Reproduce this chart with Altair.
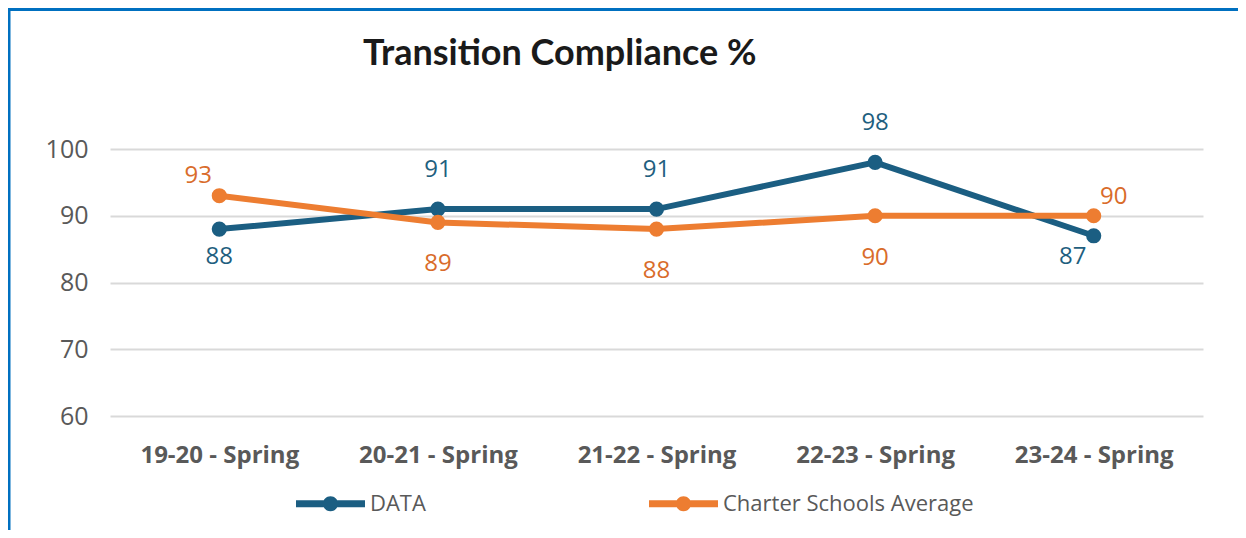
import altair as alt
import pandas as pd

# ---- data ----
seasons = ["19-20 - Spring", "20-21 - Spring", "21-22 - Spring", "22-23 - Spring", "23-24 - Spring"]
series_names = ["DATA", "Charter Schools Average"]
data_values = [88, 91, 91, 98, 87]
charter_values = [93, 89, 88, 90, 90]
data_label_pos = ["below-near", "above", "above", "above", "below-left"]
charter_label_pos = ["above-left", "below", "below", "below", "above-right"]
y_ticks = [60, 70, 80, 90, 100]

rows = []
for name, vals, pos in [(series_names[0], data_values, data_label_pos),
                        (series_names[1], charter_values, charter_label_pos)]:
    for s, v, p in zip(seasons, vals, pos):
        rows.append({"season": s, "series": name, "value": v, "pos": p})
df = pd.DataFrame(rows)

LINE_COLORS = ["#1B5E82", "#ED7D31"]
LABEL_COLORS = ["#1F5F80", "#D96C2B"]
GRAY = "#595959"

W, H = 1093, 267
PAD = {"left": 102, "top": 141, "right": 35, "bottom": 114}

x_enc = alt.X("season:N", sort=seasons, title=None,
              scale=alt.Scale(type="point", padding=0.5),
              axis=alt.Axis(labelFont="Open Sans", labelFontSize=24, labelFontWeight="bold",
                            labelColor=GRAY, labelPadding=27, ticks=False, domain=False,
                            grid=False, labelAngle=0))
y_enc = alt.Y("value:Q", title=None,
              scale=alt.Scale(domain=[60, 100], nice=False, zero=False),
              axis=alt.Axis(values=y_ticks, labelFont="Open Sans", labelFontSize=25,
                            labelColor=GRAY, labelPadding=22, ticks=False, domain=False,
                            grid=True, gridColor="#D9D9D9", gridWidth=2))

base = alt.Chart(df)

lines = base.mark_line(strokeWidth=6).encode(
    x=x_enc, y=y_enc,
    stroke=alt.Stroke("series:N", sort=series_names,
                      scale=alt.Scale(range=LINE_COLORS), legend=None),
    detail="series:N",
)

SYMBOL = ("M-1,-0.1L1,-0.1L1,0.1L-1,0.1Z "
          "M0.22,0A0.22,0.22,0,1,1,-0.22,0A0.22,0.22,0,1,1,0.22,0Z")

points = base.mark_circle(size=230, opacity=1).encode(
    x=x_enc, y=y_enc,
    color=alt.Color("series:N", scale=alt.Scale(domain=series_names, range=LINE_COLORS),
                    legend=alt.Legend(title=None, orient="none", direction="horizontal",
                                      legendX=186, legendY=320, padding=0,
                                      symbolType=SYMBOL, symbolSize=4761,
                                      symbolStrokeWidth=0, symbolOpacity=1,
                                      labelFont="Open Sans", labelFontSize=22,
                                      labelColor=GRAY, labelOffset=5, columnPadding=223,
                                      labelLimit=500)),
)

offsets = {
    "above": (0, -39),
    "below": (0, 42),
    "below-near": (0, 28),
    "above-left": (-21, -20),
    "above-right": (20, -19),
    "below-left": (-21, 21),
}

label_layers = []
for p, (ddx, ddy) in offsets.items():
    label_layers.append(
        base.transform_filter(alt.datum.pos == p).mark_text(
            font="Open Sans", fontSize=24, dx=ddx, dy=ddy, baseline="middle", align="center"
        ).encode(
            x=x_enc, y=y_enc, text="value:Q",
            fill=alt.Fill("series:N", sort=series_names,
                          scale=alt.Scale(range=LABEL_COLORS), legend=None),
        )
    )

frame_df = pd.DataFrame({"k": [0]})
border_top = alt.Chart(frame_df).mark_rule(color="#0070C0", strokeWidth=3).encode(
    x=alt.value(-102), x2=alt.value(W + PAD["right"]), y=alt.value(-139.5))
border_left = alt.Chart(frame_df).mark_rule(color="#0070C0", strokeWidth=3).encode(
    x=alt.value(-101), y=alt.value(-141), y2=alt.value(H + PAD["bottom"]))

chart = alt.layer(lines, points, *label_layers, border_top, border_left).properties(
    width=W, height=H,
    autosize=alt.AutoSizeParams(type="none"),
    padding=PAD,
    background="white",
    title=alt.TitleParams("Transition Compliance %", anchor="start", frame="group",
                          font="Lato", fontSize=36, fontWeight="bold", color="#1A1A1A",
                          dx=253, dy=66, offset=0),
).configure_view(stroke=None)

chart.save("out.html", embed_options={"renderer": "svg", "actions": False})
